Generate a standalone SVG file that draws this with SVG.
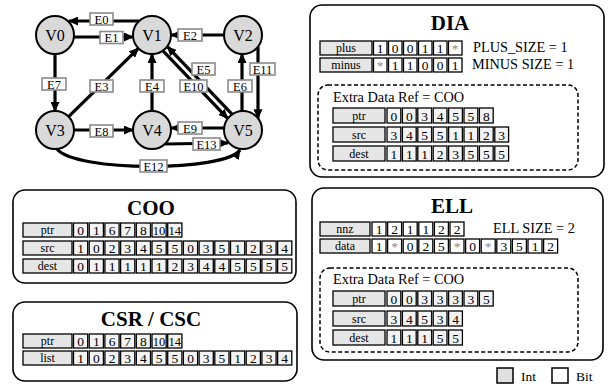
<svg xmlns="http://www.w3.org/2000/svg" width="613" height="390" viewBox="0 0 613 390">
<defs>
<marker id="ah" markerUnits="userSpaceOnUse" markerWidth="10" markerHeight="9" refX="9" refY="4.5" orient="auto"><path d="M0,0 L10,4.5 L0,9 z" fill="#000"/></marker>
<style>
text{font-family:"Liberation Serif","Times New Roman",serif;fill:#000}
.nd circle{fill:#d9d9d9;stroke:#000;stroke-width:2}
.nd text{font-size:16px;text-anchor:middle}
.e{stroke:#000;stroke-width:3.2;fill:none;marker-end:url(#ah)}
.el rect{fill:#fff;stroke:#8a8a8a;stroke-width:1.6}
.el text{font-size:12.5px;text-anchor:middle}
.panel{fill:#fff;stroke:#000;stroke-width:1.6}
.dash{fill:none;stroke:#000;stroke-width:1.5;stroke-dasharray:4 2.5}
.title{font-size:21px;font-weight:bold;text-anchor:middle}
.lab{fill:#e6e6e6;stroke:#000;stroke-width:1.3}
.ci{fill:#f3f3f3;stroke:#000;stroke-width:1.3}
.cb{fill:#fff;stroke:#000;stroke-width:1.3}
.lt{font-size:12px;text-anchor:middle}
.ct{font-size:13.5px;text-anchor:middle}
.info{font-size:14.3px}
.leg{font-size:13.5px}
</style>
</defs>
<rect width="613" height="390" fill="#fff"/>

<g id="connectors">
<path class="e" d="M139,21 L69,21"/>
<path class="e" d="M74,37 L133,37"/>
<path class="e" d="M224,35 L171,35"/>
<path class="e" d="M55,54 L55,111"/>
<path class="e" d="M68.6,116.7 L138.4,48.3"/>
<path class="e" d="M152,111 L152,54"/>
<path class="e" d="M232,114.2 L167.4,46.6"/>
<path class="e" d="M163,50.8 L227.6,118.4"/>
<path class="e" d="M242,111 L242,54"/>
<path class="e" d="M258,46.7 L258,118.3"/>
<path class="e" d="M74,130 L133,130"/>
<path class="e" d="M224,128 L171,128"/>
<path class="e" d="M165,144 L228,143"/>
<path class="e" d="M57,149 C75,172 225,172 240,150"/>
</g>

<g class="el">
<g id="lE0"><rect x="90" y="13" width="23" height="12"/><text x="101.5" y="23.5">E0</text></g>
<g id="lE1"><rect x="100" y="31.5" width="23" height="12"/><text x="111.5" y="42">E1</text></g>
<g id="lE2"><rect x="178" y="29" width="24" height="12"/><text x="190" y="39.5">E2</text></g>
<g id="lE7"><rect x="42" y="78" width="24" height="12"/><text x="54" y="88.5">E7</text></g>
<g id="lE3"><rect x="90" y="80" width="23" height="12"/><text x="101.5" y="90.5">E3</text></g>
<g id="lE4"><rect x="140" y="80" width="24" height="12"/><text x="152" y="90.5">E4</text></g>
<g id="lE5"><rect x="192" y="63" width="23" height="12"/><text x="203.5" y="73.5">E5</text></g>
<g id="lE10"><rect x="180" y="80" width="27" height="12"/><text x="193.5" y="90.5">E10</text></g>
<g id="lE11"><rect x="250" y="63" width="25" height="12"/><text x="262.5" y="73.5">E11</text></g>
<g id="lE6"><rect x="228" y="80" width="24" height="12"/><text x="240" y="90.5">E6</text></g>
<g id="lE8"><rect x="90" y="125" width="23" height="12"/><text x="101.5" y="135.5">E8</text></g>
<g id="lE9"><rect x="178" y="122" width="24" height="12"/><text x="190" y="132.5">E9</text></g>
<g id="lE13"><rect x="193" y="138" width="27" height="12"/><text x="206.5" y="148.5">E13</text></g>
<g id="lE12"><rect x="140" y="160" width="27" height="12"/><text x="153.5" y="170.5">E12</text></g>
</g>

<g id="V0" class="nd"><circle cx="55" cy="35" r="19"/><text x="55" y="40.5">V0</text></g>
<g id="V1" class="nd"><circle cx="152" cy="35" r="19"/><text x="152" y="40.5">V1</text></g>
<g id="V2" class="nd"><circle cx="243" cy="35" r="19"/><text x="243" y="40.5">V2</text></g>
<g id="V3" class="nd"><circle cx="55" cy="130" r="19"/><text x="55" y="135.5">V3</text></g>
<g id="V4" class="nd"><circle cx="152" cy="130" r="19"/><text x="152" y="135.5">V4</text></g>
<g id="V5" class="nd"><circle cx="243" cy="130" r="19"/><text x="243" y="135.5">V5</text></g>

<!-- DIA -->
<g id="DIA">
<rect class="panel" x="310" y="5" width="294" height="172" rx="12"/>
<text class="title" x="450" y="30">DIA</text>
<rect class="lab" x="320" y="41" width="52" height="14"/><text class="lt" x="346" y="52">plus</text>
<g class="cb">
<rect x="373.5" y="41" width="13.5" height="14"/><rect x="388.5" y="41" width="13.5" height="14"/><rect x="403.5" y="41" width="13.5" height="14"/><rect x="418.5" y="41" width="13.5" height="14"/><rect x="433.5" y="41" width="13.5" height="14"/><rect x="448.5" y="41" width="13.5" height="14"/>
</g>
<text class="ct" y="52.5"><tspan x="380.2">1</tspan><tspan x="395.2">0</tspan><tspan x="410.2">0</tspan><tspan x="425.2">1</tspan><tspan x="440.2">1</tspan><tspan x="455.2" fill="#888">*</tspan></text>
<rect class="lab" x="320" y="58" width="52" height="14"/><text class="lt" x="346" y="69">minus</text>
<g class="cb">
<rect x="373.5" y="58" width="13.5" height="14"/><rect x="388.5" y="58" width="13.5" height="14"/><rect x="403.5" y="58" width="13.5" height="14"/><rect x="418.5" y="58" width="13.5" height="14"/><rect x="433.5" y="58" width="13.5" height="14"/><rect x="448.5" y="58" width="13.5" height="14"/>
</g>
<text class="ct" y="69.5"><tspan x="380.2" fill="#888">*</tspan><tspan x="395.2">1</tspan><tspan x="410.2">1</tspan><tspan x="425.2">0</tspan><tspan x="440.2">0</tspan><tspan x="455.2">1</tspan></text>
<text class="info" x="473" y="52">PLUS_SIZE = 1</text>
<text class="info" x="472" y="69">MINUS SIZE = 1</text>
<rect class="dash" x="318" y="85" width="260" height="85" rx="10"/>
<text class="info" x="333" y="102">Extra Data Ref = COO</text>
<rect class="lab" x="333" y="108" width="52" height="15"/><text class="lt" x="359" y="119.5">ptr</text>
<g class="ci">
<rect x="387" y="108" width="13.8" height="15"/><rect x="402.4" y="108" width="13.8" height="15"/><rect x="417.8" y="108" width="13.8" height="15"/><rect x="433.2" y="108" width="13.8" height="15"/><rect x="448.6" y="108" width="13.8" height="15"/><rect x="464" y="108" width="13.8" height="15"/><rect x="479.4" y="108" width="13.8" height="15"/>
</g>
<text class="ct" y="120.5"><tspan x="393.9">0</tspan><tspan x="409.3">0</tspan><tspan x="424.7">3</tspan><tspan x="440.1">4</tspan><tspan x="455.5">5</tspan><tspan x="470.9">5</tspan><tspan x="486.3">8</tspan></text>
<rect class="lab" x="333" y="127" width="52" height="15"/><text class="lt" x="359" y="138.5">src</text>
<g class="ci">
<rect x="387" y="127" width="13.8" height="15"/><rect x="402.4" y="127" width="13.8" height="15"/><rect x="417.8" y="127" width="13.8" height="15"/><rect x="433.2" y="127" width="13.8" height="15"/><rect x="448.6" y="127" width="13.8" height="15"/><rect x="464" y="127" width="13.8" height="15"/><rect x="479.4" y="127" width="13.8" height="15"/><rect x="494.8" y="127" width="13.8" height="15"/>
</g>
<text class="ct" y="139.5"><tspan x="393.9">3</tspan><tspan x="409.3">4</tspan><tspan x="424.7">5</tspan><tspan x="440.1">5</tspan><tspan x="455.5">1</tspan><tspan x="470.9">1</tspan><tspan x="486.3">2</tspan><tspan x="501.7">3</tspan></text>
<rect class="lab" x="333" y="146" width="52" height="15"/><text class="lt" x="359" y="157.5">dest</text>
<g class="ci">
<rect x="387" y="146" width="13.8" height="15"/><rect x="402.4" y="146" width="13.8" height="15"/><rect x="417.8" y="146" width="13.8" height="15"/><rect x="433.2" y="146" width="13.8" height="15"/><rect x="448.6" y="146" width="13.8" height="15"/><rect x="464" y="146" width="13.8" height="15"/><rect x="479.4" y="146" width="13.8" height="15"/><rect x="494.8" y="146" width="13.8" height="15"/>
</g>
<text class="ct" y="158.5"><tspan x="393.9">1</tspan><tspan x="409.3">1</tspan><tspan x="424.7">1</tspan><tspan x="440.1">2</tspan><tspan x="455.5">3</tspan><tspan x="470.9">5</tspan><tspan x="486.3">5</tspan><tspan x="501.7">5</tspan></text>
</g>

<!-- COO -->
<g id="COO">
<rect class="panel" x="13" y="190" width="283" height="93" rx="12"/>
<text class="title" x="151" y="215">COO</text>
<rect class="lab" x="23" y="223" width="49" height="14"/><text class="lt" x="47.5" y="234">ptr</text>
<g class="ci">
<rect x="73.5" y="223" width="14.2" height="14"/><rect x="89.2" y="223" width="14.2" height="14"/><rect x="104.9" y="223" width="14.2" height="14"/><rect x="120.6" y="223" width="14.2" height="14"/><rect x="136.3" y="223" width="14.2" height="14"/><rect x="152" y="223" width="14.2" height="14"/><rect x="167.7" y="223" width="14.2" height="14"/>
</g>
<text class="ct" y="235"><tspan x="80.6">0</tspan><tspan x="96.3">1</tspan><tspan x="112">6</tspan><tspan x="127.7">7</tspan><tspan x="143.4">8</tspan><tspan x="159.1" textLength="12.5" lengthAdjust="spacingAndGlyphs">10</tspan><tspan x="174.8" textLength="12.5" lengthAdjust="spacingAndGlyphs">14</tspan></text>
<rect class="lab" x="23" y="241" width="49" height="14"/><text class="lt" x="47.5" y="252">src</text>
<g class="ci">
<rect x="73.5" y="241" width="14.2" height="14"/><rect x="89.2" y="241" width="14.2" height="14"/><rect x="104.9" y="241" width="14.2" height="14"/><rect x="120.6" y="241" width="14.2" height="14"/><rect x="136.3" y="241" width="14.2" height="14"/><rect x="152" y="241" width="14.2" height="14"/><rect x="167.7" y="241" width="14.2" height="14"/><rect x="183.4" y="241" width="14.2" height="14"/><rect x="199.1" y="241" width="14.2" height="14"/><rect x="214.8" y="241" width="14.2" height="14"/><rect x="230.5" y="241" width="14.2" height="14"/><rect x="246.2" y="241" width="14.2" height="14"/><rect x="261.9" y="241" width="14.2" height="14"/><rect x="277.6" y="241" width="14.2" height="14"/>
</g>
<text class="ct" y="253"><tspan x="80.6">1</tspan><tspan x="96.3">0</tspan><tspan x="112">2</tspan><tspan x="127.7">3</tspan><tspan x="143.4">4</tspan><tspan x="159.1">5</tspan><tspan x="174.8">5</tspan><tspan x="190.5">0</tspan><tspan x="206.2">3</tspan><tspan x="221.9">5</tspan><tspan x="237.6">1</tspan><tspan x="253.3">2</tspan><tspan x="269">3</tspan><tspan x="284.7">4</tspan></text>
<rect class="lab" x="23" y="259" width="49" height="14"/><text class="lt" x="47.5" y="270">dest</text>
<g class="ci">
<rect x="73.5" y="259" width="14.2" height="14"/><rect x="89.2" y="259" width="14.2" height="14"/><rect x="104.9" y="259" width="14.2" height="14"/><rect x="120.6" y="259" width="14.2" height="14"/><rect x="136.3" y="259" width="14.2" height="14"/><rect x="152" y="259" width="14.2" height="14"/><rect x="167.7" y="259" width="14.2" height="14"/><rect x="183.4" y="259" width="14.2" height="14"/><rect x="199.1" y="259" width="14.2" height="14"/><rect x="214.8" y="259" width="14.2" height="14"/><rect x="230.5" y="259" width="14.2" height="14"/><rect x="246.2" y="259" width="14.2" height="14"/><rect x="261.9" y="259" width="14.2" height="14"/><rect x="277.6" y="259" width="14.2" height="14"/>
</g>
<text class="ct" y="271"><tspan x="80.6">0</tspan><tspan x="96.3">1</tspan><tspan x="112">1</tspan><tspan x="127.7">1</tspan><tspan x="143.4">1</tspan><tspan x="159.1">1</tspan><tspan x="174.8">2</tspan><tspan x="190.5">3</tspan><tspan x="206.2">4</tspan><tspan x="221.9">4</tspan><tspan x="237.6">5</tspan><tspan x="253.3">5</tspan><tspan x="269">5</tspan><tspan x="284.7">5</tspan></text>
</g>

<!-- CSR / CSC -->
<g id="CSR">
<rect class="panel" x="13" y="302" width="284" height="79" rx="12"/>
<text class="title" x="151" y="326">CSR / CSC</text>
<rect class="lab" x="23" y="334" width="49" height="14"/><text class="lt" x="47.5" y="345">ptr</text>
<g class="ci">
<rect x="73.5" y="334" width="14.2" height="14"/><rect x="89.2" y="334" width="14.2" height="14"/><rect x="104.9" y="334" width="14.2" height="14"/><rect x="120.6" y="334" width="14.2" height="14"/><rect x="136.3" y="334" width="14.2" height="14"/><rect x="152" y="334" width="14.2" height="14"/><rect x="167.7" y="334" width="14.2" height="14"/>
</g>
<text class="ct" y="346"><tspan x="80.6">0</tspan><tspan x="96.3">1</tspan><tspan x="112">6</tspan><tspan x="127.7">7</tspan><tspan x="143.4">8</tspan><tspan x="159.1" textLength="12.5" lengthAdjust="spacingAndGlyphs">10</tspan><tspan x="174.8" textLength="12.5" lengthAdjust="spacingAndGlyphs">14</tspan></text>
<rect class="lab" x="23" y="351" width="49" height="14"/><text class="lt" x="47.5" y="362">list</text>
<g class="ci">
<rect x="73.5" y="351" width="14.2" height="14"/><rect x="89.2" y="351" width="14.2" height="14"/><rect x="104.9" y="351" width="14.2" height="14"/><rect x="120.6" y="351" width="14.2" height="14"/><rect x="136.3" y="351" width="14.2" height="14"/><rect x="152" y="351" width="14.2" height="14"/><rect x="167.7" y="351" width="14.2" height="14"/><rect x="183.4" y="351" width="14.2" height="14"/><rect x="199.1" y="351" width="14.2" height="14"/><rect x="214.8" y="351" width="14.2" height="14"/><rect x="230.5" y="351" width="14.2" height="14"/><rect x="246.2" y="351" width="14.2" height="14"/><rect x="261.9" y="351" width="14.2" height="14"/><rect x="277.6" y="351" width="14.2" height="14"/>
</g>
<text class="ct" y="363"><tspan x="80.6">1</tspan><tspan x="96.3">0</tspan><tspan x="112">2</tspan><tspan x="127.7">3</tspan><tspan x="143.4">4</tspan><tspan x="159.1">5</tspan><tspan x="174.8">5</tspan><tspan x="190.5">0</tspan><tspan x="206.2">3</tspan><tspan x="221.9">5</tspan><tspan x="237.6">1</tspan><tspan x="253.3">2</tspan><tspan x="269">3</tspan><tspan x="284.7">4</tspan></text>
</g>

<!-- ELL -->
<g id="ELL">
<rect class="panel" x="312" y="188" width="291" height="172" rx="12"/>
<text class="title" x="452" y="213">ELL</text>
<rect class="lab" x="320" y="222" width="50" height="14"/><text class="lt" x="345" y="233">nnz</text>
<g class="cb">
<rect x="372" y="222" width="14" height="14"/><rect x="387.6" y="222" width="14" height="14"/><rect x="403.2" y="222" width="14" height="14"/><rect x="418.8" y="222" width="14" height="14"/><rect x="434.4" y="222" width="14" height="14"/><rect x="450" y="222" width="14" height="14"/>
</g>
<text class="ct" y="234"><tspan x="379">1</tspan><tspan x="394.6">2</tspan><tspan x="410.2">1</tspan><tspan x="425.8">1</tspan><tspan x="441.4">2</tspan><tspan x="457">2</tspan></text>
<text class="info" x="493" y="233">ELL SIZE = 2</text>
<rect class="lab" x="320" y="239" width="50" height="14"/><text class="lt" x="345" y="250">data</text>
<g class="cb">
<rect x="372" y="239" width="14" height="14"/><rect x="387.6" y="239" width="14" height="14"/><rect x="403.2" y="239" width="14" height="14"/><rect x="418.8" y="239" width="14" height="14"/><rect x="434.4" y="239" width="14" height="14"/><rect x="450" y="239" width="14" height="14"/><rect x="465.6" y="239" width="14" height="14"/><rect x="481.2" y="239" width="14" height="14"/><rect x="496.8" y="239" width="14" height="14"/><rect x="512.4" y="239" width="14" height="14"/><rect x="528" y="239" width="14" height="14"/><rect x="543.6" y="239" width="14" height="14"/>
</g>
<text class="ct" y="251"><tspan x="379">1</tspan><tspan x="394.6" fill="#888">*</tspan><tspan x="410.2">0</tspan><tspan x="425.8">2</tspan><tspan x="441.4">5</tspan><tspan x="457" fill="#888">*</tspan><tspan x="472.6">0</tspan><tspan x="488.2" fill="#888">*</tspan><tspan x="503.8">3</tspan><tspan x="519.4">5</tspan><tspan x="535">1</tspan><tspan x="550.6">2</tspan></text>
<rect class="dash" x="320" y="268" width="258" height="84" rx="10"/>
<text class="info" x="333" y="284">Extra Data Ref = COO</text>
<rect class="lab" x="333" y="291" width="52" height="15"/><text class="lt" x="359" y="302.5">ptr</text>
<g class="ci">
<rect x="387" y="291" width="13.8" height="15"/><rect x="402.4" y="291" width="13.8" height="15"/><rect x="417.8" y="291" width="13.8" height="15"/><rect x="433.2" y="291" width="13.8" height="15"/><rect x="448.6" y="291" width="13.8" height="15"/><rect x="464" y="291" width="13.8" height="15"/><rect x="479.4" y="291" width="13.8" height="15"/>
</g>
<text class="ct" y="303.5"><tspan x="393.9">0</tspan><tspan x="409.3">0</tspan><tspan x="424.7">3</tspan><tspan x="440.1">3</tspan><tspan x="455.5">3</tspan><tspan x="470.9">3</tspan><tspan x="486.3">5</tspan></text>
<rect class="lab" x="333" y="311" width="52" height="15"/><text class="lt" x="359" y="322.5">src</text>
<g class="ci">
<rect x="387" y="311" width="13.8" height="15"/><rect x="402.4" y="311" width="13.8" height="15"/><rect x="417.8" y="311" width="13.8" height="15"/><rect x="433.2" y="311" width="13.8" height="15"/><rect x="448.6" y="311" width="13.8" height="15"/>
</g>
<text class="ct" y="323.5"><tspan x="393.9">3</tspan><tspan x="409.3">4</tspan><tspan x="424.7">5</tspan><tspan x="440.1">3</tspan><tspan x="455.5">4</tspan></text>
<rect class="lab" x="333" y="330" width="52" height="15"/><text class="lt" x="359" y="341.5">dest</text>
<g class="ci">
<rect x="387" y="330" width="13.8" height="15"/><rect x="402.4" y="330" width="13.8" height="15"/><rect x="417.8" y="330" width="13.8" height="15"/><rect x="433.2" y="330" width="13.8" height="15"/><rect x="448.6" y="330" width="13.8" height="15"/>
</g>
<text class="ct" y="342.5"><tspan x="393.9">1</tspan><tspan x="409.3">1</tspan><tspan x="424.7">1</tspan><tspan x="440.1">5</tspan><tspan x="455.5">5</tspan></text>
</g>

<!-- Legend -->
<g id="legend">
<rect x="497" y="368" width="16" height="15" fill="#e0e0e0" stroke="#000" stroke-width="1.5"/>
<text class="leg" x="521" y="381">Int</text>
<rect x="552" y="368" width="16" height="15" fill="#fff" stroke="#000" stroke-width="1.5"/>
<text class="leg" x="576" y="381">Bit</text>
</g>
</svg>
